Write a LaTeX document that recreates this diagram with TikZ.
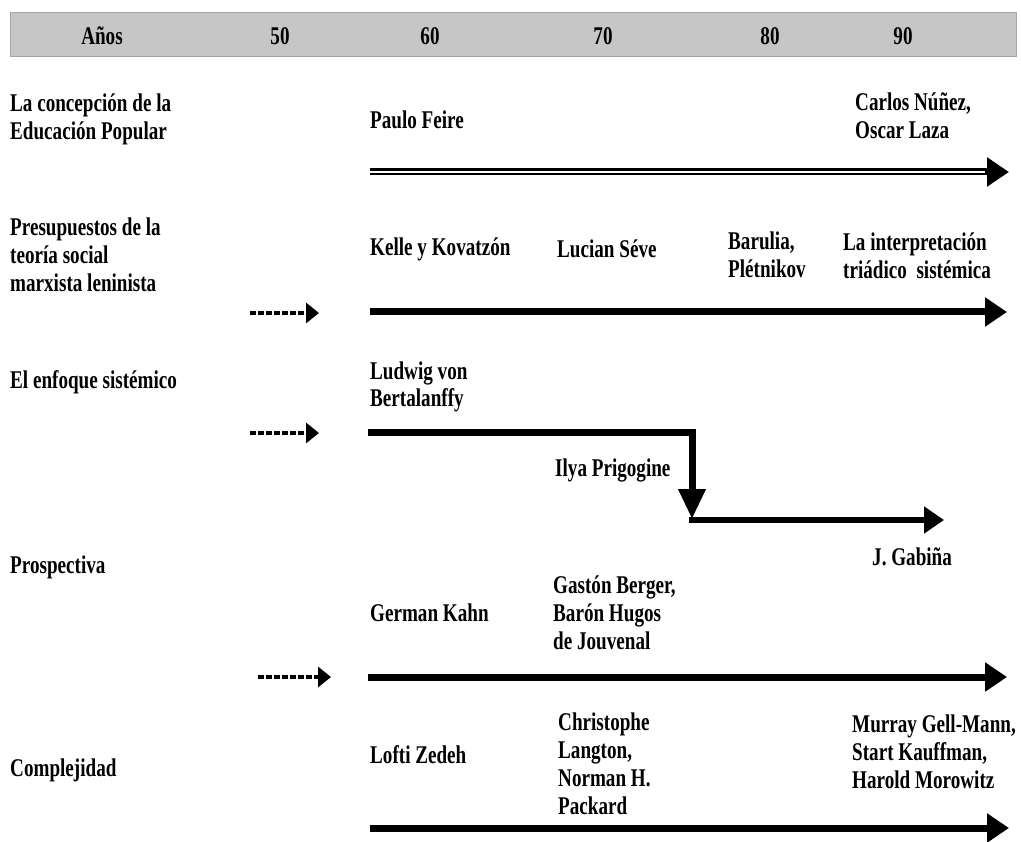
\documentclass[tikz,border=0pt]{standalone}
\usepackage{fontspec}
\setmainfont{Liberation Serif}[FakeStretch=0.75]
\usetikzlibrary{arrows.meta}
\definecolor{band}{RGB}{198,198,198}
\definecolor{bandline}{RGB}{165,165,165}
\tikzset{
  lbl/.style={anchor=base west, inner sep=0pt, align=left, font=\fontsize{25.5}{28}\selectfont\bfseries},
  hdr/.style={anchor=base, inner sep=0pt, font=\fontsize{25.5}{28}\selectfont\bfseries},
  mainarrow/.style={line width=7pt, -{Triangle[length=22pt,width=28pt]}},
  dasharrow/.style={line width=4.5pt, dash pattern=on 6pt off 2pt, -{Triangle[length=13pt,width=20pt]}},
}
\begin{document}
\begin{tikzpicture}[x=1pt,y=-1pt]
\useasboundingbox (0,0) rectangle (1021,842);
% header band
\fill[band] (10,13) rectangle (1016,57);
\draw[bandline, line width=1pt] (10,13) rectangle (1016,57);
\node[hdr] (hAnos) at (102,45) {Años};
\node[hdr] (h50) at (280,45) {50};
\node[hdr] (h60) at (430,45) {60};
\node[hdr] (h70) at (603,45) {70};
\node[hdr] (h80) at (770,45) {80};
\node[hdr] (h90) at (903,45) {90};

% row 1 (base anchors sit on the last line of each label)
\node[lbl] (r1) at (10,140) {La concepción de la\\Educación Popular};
\node[lbl] (pf) at (370,129) {Paulo Feire};
\node[lbl] (cn) at (855,139) {Carlos Núñez,\\Oscar Laza};
\coordinate (a1s) at (370,172);
\coordinate (a1e) at (1009,172);
\draw[mainarrow] (a1s) -- (a1e);
\draw[white, line width=1.2pt] (a1s) -- ([xshift=-24pt]a1e);

% row 2
\node[lbl] (r2) at (10,292) {Presupuestos de la\\teoría social\\marxista leninista};
\node[lbl] (kk) at (370,256) {Kelle y Kovatzón};
\node[lbl] (ls) at (557,258) {Lucian Séve};
\node[lbl] (bp) at (728,278) {Barulia,\\Plétnikov};
\node[lbl] (it) at (843,279) {La interpretación\\triádico\ \ sistémica};
\coordinate (d2s) at (250,313);
\coordinate (d2e) at (319,313);
\draw[dasharrow] (d2s) -- (d2e);
\coordinate (a2s) at (370,312);
\coordinate (a2e) at (1007,312);
\draw[mainarrow] (a2s) -- (a2e);

% row 3
\node[lbl] (r3) at (10,389) {El enfoque sistémico};
\node[lbl] (lb) at (370,407) {Ludwig von\\Bertalanffy};
\node[lbl] (ip) at (555,476) {Ilya Prigogine};
\node[lbl] (jg) at (872,565) {J. Gabiña};
\coordinate (d3s) at (250,433);
\coordinate (d3e) at (319,433);
\draw[dasharrow] (d3s) -- (d3e);
\coordinate (a3s) at (368,433);
\coordinate (a3c) at (692,433);
\coordinate (a3e) at (692,519);
\draw[line width=7pt, -{Triangle[length=30pt,width=26pt]}] (a3s) -- (a3c) -- (a3e);
\coordinate (b3s) at (689,520);
\coordinate (b3e) at (944,520);
\draw[line width=6pt, -{Triangle[length=20pt,width=26pt]}] (b3s) -- (b3e);

% row 4
\node[lbl] (r4) at (10,573) {Prospectiva};
\node[lbl] (gk) at (370,621) {German Kahn};
\node[lbl] (gb) at (553,649) {Gastón Berger,\\Barón Hugos\\de Jouvenal};
\coordinate (d4s) at (258,677);
\coordinate (d4e) at (331,677);
\draw[dasharrow] (d4s) -- (d4e);
\coordinate (a4s) at (368,677);
\coordinate (a4e) at (1007,677);
\draw[mainarrow] (a4s) -- (a4e);

% row 5
\node[lbl] (r5) at (10,776) {Complejidad};
\node[lbl] (lz) at (370,763) {Lofti Zedeh};
\node[lbl] (cl) at (558,814) {Christophe\\Langton,\\Norman H.\\Packard};
\node[lbl] (mg) at (852,788) {Murray Gell-Mann,\\Start Kauffman,\\Harold Morowitz};
\coordinate (a5s) at (370,828);
\coordinate (a5e) at (1009,828);
\draw[mainarrow] (a5s) -- (a5e);
\end{tikzpicture}
\end{document}
